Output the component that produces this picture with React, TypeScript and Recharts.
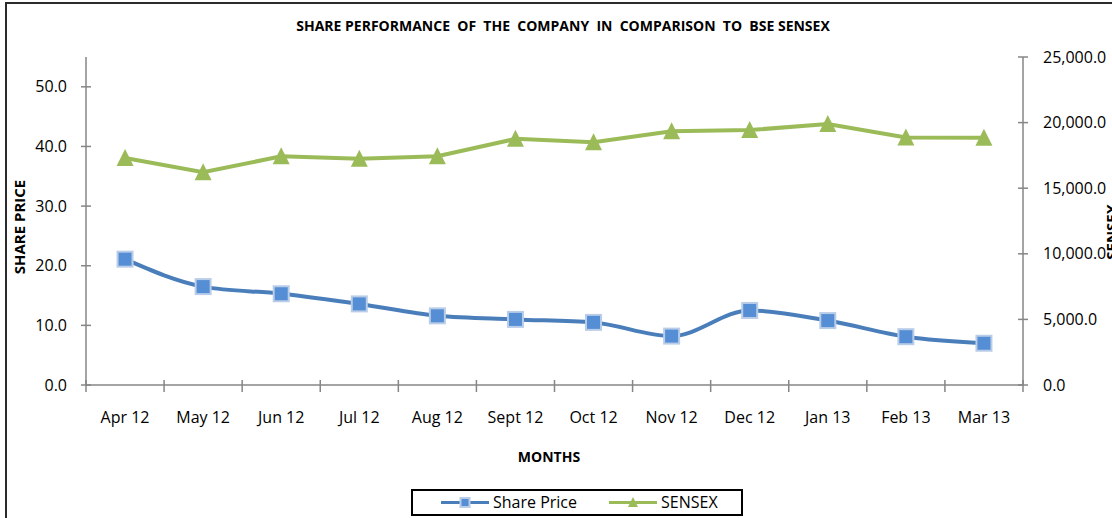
import React from 'react';
import { LineChart, Line, XAxis, YAxis } from 'recharts';

const months = ['Apr 12', 'May 12', 'Jun 12', 'Jul 12', 'Aug 12', 'Sept 12', 'Oct 12', 'Nov 12', 'Dec 12', 'Jan 13', 'Feb 13', 'Mar 13'];
const sharePrice = [21.1, 16.5, 15.3, 13.6, 11.6, 11.0, 10.5, 8.2, 12.5, 10.8, 8.1, 7.0];
const sensex = [17300, 16220, 17430, 17240, 17430, 18760, 18500, 19340, 19430, 19890, 18860, 18840];
const leftTicks = [0, 10, 20, 30, 40, 50];
const rightTicks = [0, 5000, 10000, 15000, 20000, 25000];
// integer positions get a tick mark, half positions carry the month label
const xTicks = Array.from({ length: 25 }, (_, i) => i / 2);

const data = months.map((month, i) => ({ pos: i + 0.5, month, share: sharePrice[i], sensex: sensex[i] }));

const FONT = '"Open Sans", Calibri, sans-serif';
const AXIS = '#868686';
const BLUE_LINE = '#4a7ebb';
const BLUE_FILL = '#558ed5';
const GREEN = '#9bbb59';

function MonthTick(props: any) {
  const { x, y, payload } = props;
  const v = payload.value;
  if (Number.isInteger(v)) {
    return <line x1={x} x2={x} y1={y - 5} y2={y + 7} stroke={AXIS} strokeWidth={1.5} />;
  }
  return (
    <text x={x} y={y + 38} textAnchor="middle" fontFamily={FONT} fontSize={16} fill="#000">
      {months[v - 0.5]}
    </text>
  );
}

function LeftTick(props: any) {
  const { x, y, payload } = props;
  return (
    <g>
      <line x1={x - 5} x2={x + 5} y1={y} y2={y} stroke={AXIS} strokeWidth={1.5} />
      <text x={x - 19} y={y + 5.5} textAnchor="end" fontFamily={FONT} fontSize={16} fill="#000">
        {payload.value.toFixed(1)}
      </text>
    </g>
  );
}

function RightTick(props: any) {
  const { x, y, payload } = props;
  return (
    <g>
      <line x1={x - 5} x2={x + 5} y1={y} y2={y} stroke={AXIS} strokeWidth={1.5} />
      <text x={x + 20} y={y + 5.5} textAnchor="start" fontFamily={FONT} fontSize={16} fill="#000">
        {payload.value.toLocaleString('en-US', { minimumFractionDigits: 1 })}
      </text>
    </g>
  );
}

function SquareDot(props: any) {
  const { cx, cy, index } = props;
  return <rect key={`sq-${index}`} x={cx - 7.5} y={cy - 7.5} width={15} height={15} fill={BLUE_FILL} stroke="#b9cde8" strokeWidth={2} />;
}

function TriangleDot(props: any) {
  const { cx, cy, index } = props;
  return (
    <polygon
      key={`tri-${index}`}
      points={`${cx},${cy - 9} ${cx + 8.5},${cy + 8} ${cx - 8.5},${cy + 8}`}
      fill={GREEN}
    />
  );
}

function LegendBox() {
  return (
    <div
      style={{
        position: 'absolute',
        left: 411,
        top: 489,
        width: 328,
        height: 23,
        border: '2px solid #000',
        fontFamily: FONT,
        fontSize: 16,
        background: '#fff',
      }}
    >
      <svg width={60} height={23} style={{ position: 'absolute', left: 28, top: 0 }}>
        <line x1={0} x2={48} y1={11.5} y2={11.5} stroke={BLUE_LINE} strokeWidth={3} />
        <rect x={19.5} y={7} width={9} height={9} fill={BLUE_FILL} stroke="#b9cde8" strokeWidth={2} />
      </svg>
      <span style={{ position: 'absolute', left: 80, top: 0, lineHeight: '23px' }}>Share Price</span>
      <svg width={60} height={23} style={{ position: 'absolute', left: 196, top: 0 }}>
        <line x1={0} x2={48} y1={11.5} y2={11.5} stroke={GREEN} strokeWidth={3} />
        <polygon points="24,6 29,16 19,16" fill={GREEN} />
      </svg>
      <span style={{ position: 'absolute', left: 248, top: 0, lineHeight: '23px' }}>SENSEX</span>
    </div>
  );
}

export default function App() {
  return (
    <div style={{ position: 'absolute', left: 0, top: 0, width: 1112, height: 518, overflow: 'hidden', background: '#fff' }}>
      <div style={{ position: 'absolute', left: 5, top: 2, width: 1200, height: 600, border: '2px solid #2b2b2b' }} />
      <div
        style={{
          position: 'absolute',
          left: 0,
          width: 1126,
          top: 16,
          textAlign: 'center',
          fontFamily: FONT,
          fontWeight: 700,
          fontSize: 14,
          whiteSpace: 'pre',
        }}
      >
        {'SHARE PERFORMANCE  OF  THE  COMPANY  IN  COMPARISON  TO  BSE SENSEX'}
      </div>
      <LineChart width={1112} height={518} data={data} margin={{ top: 57, right: 0, bottom: 0, left: 0 }} style={{ position: 'absolute', left: 0, top: 0 }}>
        <XAxis
          dataKey="pos"
          type="number"
          domain={[0, 12]}
          ticks={xTicks}
          interval={0}
          tick={<MonthTick />}
          tickLine={false}
          tickSize={0}
          tickMargin={0}
          height={133}
          axisLine={{ stroke: AXIS, strokeWidth: 1.5 }}
        />
        <YAxis
          yAxisId="left"
          orientation="left"
          width={86}
          domain={[0, 55]}
          ticks={leftTicks}
          interval={0}
          tick={<LeftTick />}
          tickLine={false}
          tickSize={0}
          tickMargin={0}
          axisLine={{ stroke: AXIS, strokeWidth: 1.5 }}
        />
        <YAxis
          yAxisId="right"
          orientation="right"
          width={89}
          domain={[0, 25000]}
          ticks={rightTicks}
          interval={0}
          tick={<RightTick />}
          tickLine={false}
          tickSize={0}
          tickMargin={0}
          axisLine={{ stroke: AXIS, strokeWidth: 1.5 }}
        />
        <Line
          yAxisId="right"
          type="linear"
          dataKey="sensex"
          stroke={GREEN}
          strokeWidth={4}
          dot={<TriangleDot />}
          activeDot={false}
          isAnimationActive={false}
        />
        <Line
          yAxisId="left"
          type="monotone"
          dataKey="share"
          stroke={BLUE_LINE}
          strokeWidth={4}
          dot={<SquareDot />}
          activeDot={false}
          isAnimationActive={false}
        />
      </LineChart>
      <div
        style={{
          position: 'absolute',
          left: 19,
          top: 227,
          transform: 'translate(-50%, -50%) rotate(-90deg)',
          fontFamily: FONT,
          fontWeight: 700,
          fontSize: 15,
          whiteSpace: 'nowrap',
        }}
      >
        SHARE PRICE
      </div>
      <div
        style={{
          position: 'absolute',
          left: 1111,
          top: 232,
          transform: 'translate(-50%, -50%) rotate(-90deg)',
          fontFamily: FONT,
          fontWeight: 700,
          fontSize: 15,
          whiteSpace: 'nowrap',
        }}
      >
        SENSEX
      </div>
      <div
        style={{
          position: 'absolute',
          left: 549,
          top: 456,
          transform: 'translate(-50%, -50%)',
          fontFamily: FONT,
          fontWeight: 700,
          fontSize: 14,
        }}
      >
        MONTHS
      </div>
      <LegendBox />
    </div>
  );
}
